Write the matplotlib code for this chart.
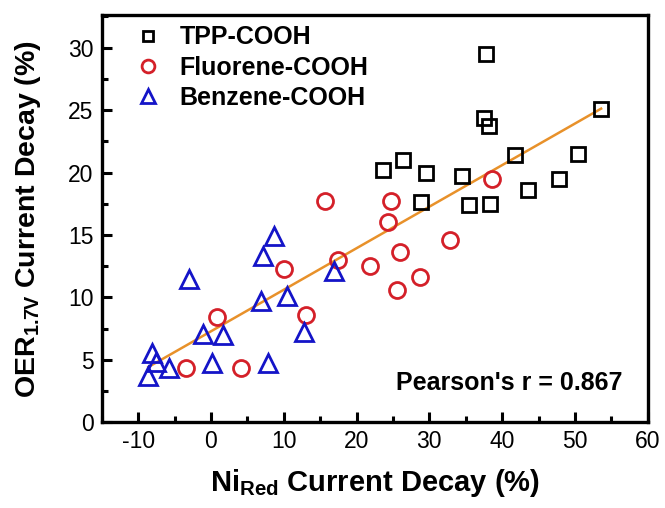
import numpy as np
import matplotlib
matplotlib.use("Agg")
import matplotlib.pyplot as plt
from matplotlib.ticker import MultipleLocator

plt.rcParams["font.family"] = ["Liberation Sans", "DejaVu Sans"]
plt.rcParams["mathtext.fontset"] = "custom"
plt.rcParams["mathtext.rm"] = "Liberation Sans"
plt.rcParams["mathtext.bf"] = "Liberation Sans:bold"
plt.rcParams["axes.unicode_minus"] = False

# data
tpp_x = [37.8, 53.6, 37.5, 38.2, 41.8, 50.4, 26.4, 23.6, 29.6, 34.5, 47.8, 43.5, 28.8, 35.5, 38.4]
tpp_y = [29.5, 25.1, 24.4, 23.7, 21.4, 21.5, 21.0, 20.2, 20.0, 19.7, 19.5, 18.6, 17.6, 17.4, 17.5]

flu_x = [15.7, 24.7, 38.6, 24.3, 32.8, 26.0, 21.8, 28.7, 25.6, 17.5, 10.1, 13.1, 0.8, -3.4, 4.1]
flu_y = [17.7, 17.7, 19.5, 16.0, 14.6, 13.6, 12.5, 11.65, 10.6, 13.0, 12.3, 8.55, 8.4, 4.3, 4.3]

ben_x = [8.6, 7.2, -3.0, 16.9, 10.5, 6.9, -1.1, 1.65, 12.8, -8.1, -7.5, -5.7, -8.6, 0.2, 7.9]
ben_y = [14.9, 13.3, 11.5, 12.1, 10.1, 9.7, 7.1, 6.95, 7.2, 5.55, 4.8, 4.3, 3.7, 4.75, 4.75]

pearson_r = 0.867

fig = plt.figure(figsize=(6.65, 5.08), dpi=100)
ax = fig.add_axes([0.153, 0.169, 0.821, 0.801])

ax.plot(tpp_x, tpp_y, "s", ms=9.5, mfc="none", mec="black", mew=2.0, label="TPP-COOH")
ax.plot(flu_x, flu_y, "o", ms=11.5, mfc="none", mec="#d42029", mew=2.0, label="Fluorene-COOH")
ax.plot(ben_x, ben_y, "^", ms=12.5, mfc="none", mec="#1414c8", mew=2.0, label="Benzene-COOH")

# linear fit over all points
all_x = np.array(tpp_x + flu_x + ben_x)
all_y = np.array(tpp_y + flu_y + ben_y)
k, b = np.polyfit(all_x, all_y, 1)
xs = np.array([all_x.min(), all_x.max()])
ax.plot(xs, k * xs + b, color="#e8912a", lw=1.8, zorder=1)

ax.set_xlim(-15, 60)
ax.set_ylim(0, 32.6)
ax.xaxis.set_major_locator(MultipleLocator(10))
ax.xaxis.set_minor_locator(MultipleLocator(5))
ax.yaxis.set_major_locator(MultipleLocator(5))
ax.yaxis.set_minor_locator(MultipleLocator(2.5))
ax.set_xticks(np.arange(-10, 61, 10))
ax.tick_params(which="major", direction="in", length=7, width=2.2, labelsize=16.5, pad=6)
ax.tick_params(which="minor", direction="in", length=4, width=2.2)
ax.tick_params(top=False, right=False, which="both")
for s in ax.spines.values():
    s.set_linewidth(2.4)

ax.set_xlabel(r"$\mathbf{Ni_{Red}}$ Current Decay (%)", fontsize=21, fontweight="bold", labelpad=10)
ax.set_ylabel(r"$\mathbf{OER_{1.7V}}$ Current Decay (%)", fontsize=20.5, fontweight="bold", labelpad=18)

ax.text(0.954, 0.079, "Pearson's r = %.3f" % pearson_r, transform=ax.transAxes,
        ha="right", va="baseline", fontsize=18, fontweight="bold")

leg = ax.legend(loc="upper left", bbox_to_anchor=(0.057, 0.975), frameon=False,
                prop={"size": 18, "weight": "bold"}, handletextpad=0.68,
                labelspacing=0.25, borderaxespad=0, borderpad=0,
                handlelength=1.2, markerscale=0.8)

fig.savefig("out.png", dpi=100)
